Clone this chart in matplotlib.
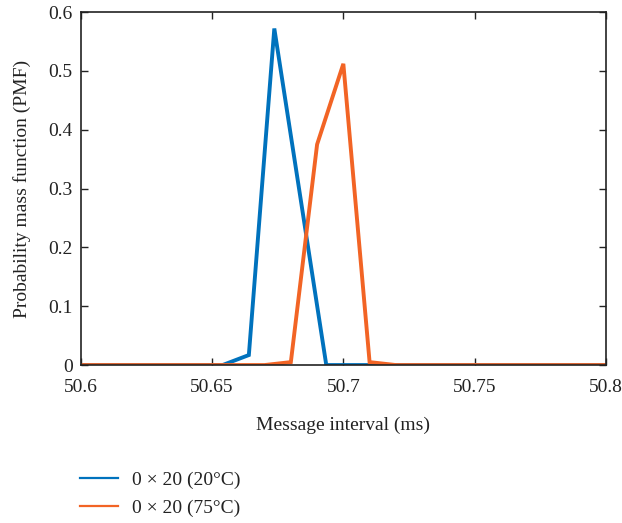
import matplotlib
matplotlib.use("Agg")
import matplotlib.pyplot as plt

plt.rcParams['font.family'] = ['Liberation Serif', 'DejaVu Serif']

# PMF of message intervals for the two temperatures
x_20c = [50.60, 50.654, 50.664, 50.6737, 50.6935, 50.80]
pmf_20c = [0.0, 0.0, 0.017, 0.572, 0.0, 0.0]

x_75c = [50.60, 50.670, 50.680, 50.690, 50.700, 50.710, 50.720, 50.80]
pmf_75c = [0.0, 0.0, 0.005, 0.375, 0.512, 0.005, 0.0, 0.0]

labels = ['0 × 20 (20°C)', '0 × 20 (75°C)']
colors = ['#0072BD', '#F26425']

xticks = [50.6, 50.65, 50.7, 50.75, 50.8]
xtick_labels = ['50.6', '50.65', '50.7', '50.75', '50.8']
yticks = [0, 0.1, 0.2, 0.3, 0.4, 0.5, 0.6]
ytick_labels = ['0', '0.1', '0.2', '0.3', '0.4', '0.5', '0.6']

fig = plt.figure(figsize=(6.22, 5.23), dpi=100)
ax = fig.add_axes([0.130, 0.302, 0.844, 0.675])

ax.plot(x_20c, pmf_20c, color=colors[0], lw=2.8, solid_joinstyle='miter')
ax.plot(x_75c, pmf_75c, color=colors[1], lw=2.8, solid_joinstyle='miter')

ax.set_xlim(50.6, 50.8)
ax.set_ylim(0, 0.6)
ax.set_xticks(xticks)
ax.set_xticklabels(xtick_labels)
ax.set_yticks(yticks)
ax.set_yticklabels(ytick_labels)
ax.tick_params(direction='in', top=True, right=True, length=5, width=1,
               labelsize=14, colors='#222222')
ax.tick_params(axis='x', pad=10)
ax.tick_params(axis='y', pad=6)
for s in ax.spines.values():
    s.set_linewidth(1.2)
    s.set_color('#222222')

ax.set_xlabel('Message interval (ms)', fontsize=14, color='#222222', labelpad=15)
ax.set_ylabel('Probability mass function (PMF)', fontsize=14, color='#222222', labelpad=12)

# thinner legend handles placed below the axes
h1, = ax.plot([], [], color=colors[0], lw=1.6)
h2, = ax.plot([], [], color=colors[1], lw=1.6)
fig.legend([h1, h2], labels, loc='upper left', bbox_to_anchor=(0.100, 0.132),
           frameon=False, fontsize=14, handlelength=1.96, handletextpad=0.72,
           labelspacing=0.5, labelcolor='#222222')

fig.savefig('out.png', dpi=100)
